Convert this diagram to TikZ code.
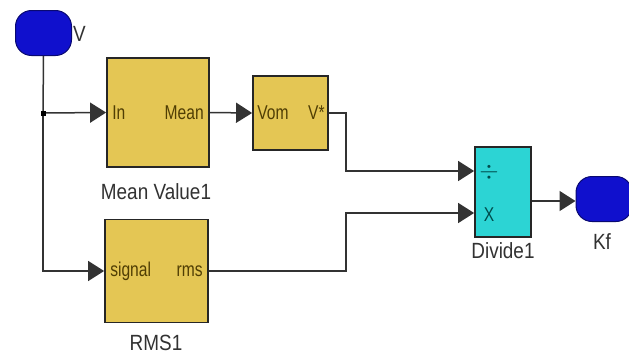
\documentclass[tikz,border=0pt]{standalone}
\usepackage{fontspec}
\usepackage{graphicx}
\setmainfont{Liberation Sans}
\usetikzlibrary{arrows.meta}

\definecolor{blockyel}{RGB}{228,198,84}
\definecolor{blockcyan}{RGB}{44,212,212}
\definecolor{portblue}{RGB}{16,16,205}
\definecolor{txtolive}{RGB}{80,62,4}
\definecolor{txtgray}{RGB}{50,50,50}

% narrow text as in the screenshot
\newcommand{\lbltext}[1]{\scalebox{0.86}[1]{#1}}
\newcommand{\blktext}[1]{\scalebox{0.78}[1]{#1}}

\tikzset{
  blk/.style={draw=black!85,line width=1.8pt,fill=blockyel,inner sep=0pt},
  portv/.style={draw=portblue!55!black,line width=1pt,fill=portblue,rounded corners=16pt,
    minimum width=56pt,minimum height=45pt,inner sep=0pt},
  sig/.style={line width=1.5pt,black!80},
  sigarr/.style={sig,-{Triangle[length=16pt,width=20pt]}},
  lbl/.style={font=\fontsize{22}{24}\selectfont,text=txtgray,inner sep=0pt},
  intxt/.style={font=\fontsize{20}{22}\selectfont,text=txtolive,inner sep=0pt},
}

\begin{document}
\begin{tikzpicture}[x=1pt,y=-1pt]
  \useasboundingbox[fill=white] (0,0) rectangle (629,356);
  % ports
  \node[portv] (vin) at (43.5,33) {};
  \node[lbl,anchor=west] (vlbl) at (73,34) {\lbltext{V}};
  \begin{scope}
    \clip (0,0) rectangle (629,356);
    \node[portv] (kf) at (604,199) {};
  \end{scope}
  \node[lbl] (kflbl) at (602,242) {\lbltext{Kf}};
  % blocks
  \node[blk,minimum width=102pt,minimum height=109pt] (mean) at (158,112.5) {};
  \node[intxt,anchor=west] at ([xshift=6pt]mean.west) {\blktext{In}};
  \node[intxt,anchor=east] at ([xshift=-6pt]mean.east) {\blktext{Mean}};
  \node[lbl] (meanlbl) at (156,192) {\lbltext{Mean Value1}};
  \node[blk,minimum width=75pt,minimum height=74pt] (vom) at (290.5,113) {};
  \node[intxt,anchor=west] at ([xshift=5pt]vom.west) {\blktext{Vom}};
  \node[intxt,anchor=east] at ([xshift=-4pt]vom.east) {\blktext{V*}};
  \node[blk,minimum width=103pt,minimum height=103pt] (rms) at (156.5,271) {};
  \node[intxt,anchor=west] at ([xshift=6pt]rms.west) {\blktext{signal}};
  \node[intxt,anchor=east] at ([xshift=-6pt]rms.east) {\blktext{rms}};
  \node[lbl] (rmslbl) at (156,343) {\lbltext{RMS1}};
  \node[blk,fill=blockcyan,minimum width=56pt,minimum height=90pt] (div) at (503,192) {};
  \node[intxt,text=teal!60!black,font=\fontsize{24}{24}\selectfont] at (489,172) {$\div$};
  \node[intxt,text=teal!60!black] at (489,215) {\blktext{X}};
  \node[lbl] (divlbl) at (503,251) {\lbltext{Divide1}};
  \coordinate (din1) at (div.west |- 0,171);
  \coordinate (din2) at (div.west |- 0,213);
  \coordinate (dout) at (div.east |- 0,201);
  \coordinate (split) at (43,113);
  % lines
  \draw[sig] (vin.south) -- (split);
  \draw[sigarr] (split) |- (rms.west);
  \draw[sigarr] (split) -- (mean.west);
  \fill ([shift={(-2.5,-2.5)}]split) rectangle ([shift={(2.5,2.5)}]split);
  \draw[sigarr] (mean.east) -- (vom.west);
  \draw[sigarr] (vom.east) -| (346,171) -- (din1);
  \draw[sigarr] (rms.east) -| (346,213) -- (din2);
  \draw[sigarr] (dout) -- (kf.west |- dout);
\end{tikzpicture}
\end{document}
